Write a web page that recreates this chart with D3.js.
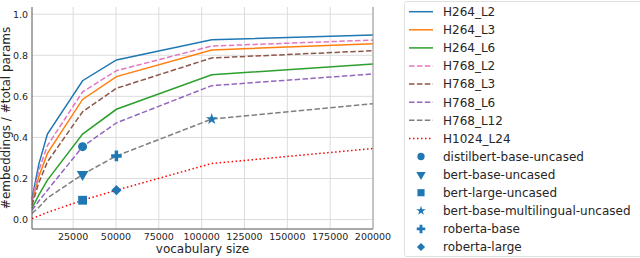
<!DOCTYPE html>
<html>
<head>
<meta charset="utf-8" />
<title>Embedding share</title>
<style>
  body { margin: 0; background: white; }
  text { font-family: "DejaVu Sans", sans-serif; fill: #262626; }
</style>
</head>
<body>
<svg id="chart" width="640" height="258"></svg>
<script src="https://d3js.org/d3.v7.min.js"></script>
<script>

var vocab = [1000, 5000, 10000, 30522, 50265, 105879, 200000];

var seriesNames = ["H264_L2", "H264_L3", "H264_L6", "H768_L2", "H768_L3", "H768_L6", "H768_L12", "H1024_L24"];
var seriesValues = [
  [0.10, 0.27, 0.416, 0.676, 0.777, 0.875, 0.899],
  [0.086, 0.21, 0.322, 0.585, 0.696, 0.826, 0.856],
  [0.055, 0.12, 0.192, 0.416, 0.537, 0.705, 0.758],
  [0.094, 0.24, 0.36, 0.622, 0.725, 0.845, 0.874],
  [0.07, 0.18, 0.281, 0.525, 0.639, 0.787, 0.822],
  [0.045, 0.09, 0.143, 0.355, 0.471, 0.652, 0.709],
  [0.03, 0.06, 0.105, 0.22, 0.31, 0.489, 0.564],
  [0.005, 0.018, 0.035, 0.094, 0.143, 0.273, 0.346]
];
var seriesColors = ["#1f77b4", "#ff7f0e", "#2ca02c", "#e377c2", "#8c564b", "#9467bd", "#7f7f7f", "red"];
var seriesDash = [null, null, null, "5.5,2.4", "5.5,2.4", "5.5,2.4", "5.5,2.4", "1.5,2.5"];

var modelNames = ["distilbert-base-uncased", "bert-base-uncased", "bert-large-uncased",
                  "bert-base-multilingual-uncased", "roberta-base", "roberta-large"];
var modelVocab = [30522, 30522, 30522, 105879, 50265, 50265];
var modelRatio = [0.355, 0.22, 0.094, 0.489, 0.31, 0.143];

var xTicks = [25000, 50000, 75000, 100000, 125000, 150000, 175000, 200000];
var yTicks = [0.0, 0.2, 0.4, 0.6, 0.8, 1.0];

// marker shapes: [symbol type, area, rotation]
var shapes = [
  [d3.symbolCircle, 64, 0],
  [d3.symbolTriangle, 58, 180],
  [d3.symbolSquare, 78, 0],
  [d3.symbolStar, 42, 0],
  [d3.symbolCross, 62, 0],
  [d3.symbolSquare, 52, 45]
];

var svg = d3.select("#chart");
var plotL = 32, plotR = 373, plotT = 7, plotB = 229;

var x = d3.scaleLinear().domain([d3.min(vocab), 200000]).range([plotL, plotR]);
var y = d3.scaleLinear().domain([-0.046, 1.035]).range([plotB, plotT]);

// grid
svg.append("g").selectAll("line").data(xTicks).enter().append("line")
  .attr("x1", function(d){ return x(d); }).attr("x2", function(d){ return x(d); })
  .attr("y1", plotT).attr("y2", plotB)
  .attr("stroke", "#dcdcdc").attr("stroke-width", 1);
svg.append("g").selectAll("line").data(yTicks).enter().append("line")
  .attr("x1", plotL).attr("x2", plotR)
  .attr("y1", function(d){ return y(d); }).attr("y2", function(d){ return y(d); })
  .attr("stroke", "#dcdcdc").attr("stroke-width", 1);

// tick labels
svg.append("g").selectAll("text").data(xTicks).enter().append("text")
  .attr("x", function(d){ return x(d); }).attr("y", 240)
  .attr("text-anchor", "middle").attr("font-size", 9.5)
  .text(function(d){ return d3.format("d")(d); });
svg.append("g").selectAll("text").data(yTicks).enter().append("text")
  .attr("x", 28).attr("y", function(d){ return y(d) + 3.5; })
  .attr("text-anchor", "end").attr("font-size", 9.5)
  .text(function(d){ return d3.format(".1f")(d); });

// axis labels
svg.append("text").attr("x", (plotL + plotR) / 2).attr("y", 253)
  .attr("text-anchor", "middle").attr("font-size", 12).text("vocabulary size");
svg.append("text").attr("transform", "translate(10," + ((plotT + plotB) / 2) + ") rotate(-90)")
  .attr("text-anchor", "middle").attr("font-size", 12).text("#embeddings / #total params");

// lines
var line = d3.line()
  .x(function(d, i){ return x(vocab[i]); })
  .y(function(d){ return y(d); });

seriesValues.forEach(function(vals, i){
  svg.append("path")
    .attr("d", line(vals))
    .attr("fill", "none")
    .attr("stroke", seriesColors[i])
    .attr("stroke-width", 1.5)
    .attr("stroke-dasharray", seriesDash[i]);
});

// model markers
modelNames.forEach(function(name, i){
  svg.append("path")
    .attr("d", d3.symbol().type(shapes[i][0]).size(shapes[i][1])())
    .attr("transform", "translate(" + x(modelVocab[i]) + "," + y(modelRatio[i]) + ") rotate(" + shapes[i][2] + ")")
    .attr("fill", "#1f77b4");
});

// spines
svg.append("line").attr("x1", plotL).attr("x2", plotL).attr("y1", plotT).attr("y2", plotB)
  .attr("stroke", "#555").attr("stroke-width", 1);
svg.append("line").attr("x1", plotL).attr("x2", plotR).attr("y1", plotB).attr("y2", plotB)
  .attr("stroke", "#555").attr("stroke-width", 1);
svg.append("line").attr("x1", plotR).attr("x2", plotR).attr("y1", plotT).attr("y2", plotB)
  .attr("stroke", "#999").attr("stroke-width", 1);

// legend
var lg = svg.append("g");
lg.append("rect").attr("x", 404.5).attr("y", 1.5).attr("width", 240).attr("height", 255)
  .attr("rx", 2).attr("fill", "white").attr("stroke", "#e0e0e0");

var rowY = function(i){ return 11.7 + i * 18.1; };

seriesNames.forEach(function(name, i){
  lg.append("line").attr("x1", 409).attr("x2", 433)
    .attr("y1", rowY(i)).attr("y2", rowY(i))
    .attr("stroke", seriesColors[i]).attr("stroke-width", 1.5)
    .attr("stroke-dasharray", seriesDash[i]);
  lg.append("text").attr("x", 443).attr("y", rowY(i) + 4.3)
    .attr("font-size", 12).text(name);
});
modelNames.forEach(function(name, j){
  var i = j + seriesNames.length;
  lg.append("path")
    .attr("d", d3.symbol().type(shapes[j][0]).size(shapes[j][1] * 0.65)())
    .attr("transform", "translate(421," + rowY(i) + ") rotate(" + shapes[j][2] + ")")
    .attr("fill", "#1f77b4");
  lg.append("text").attr("x", 443).attr("y", rowY(i) + 4.3)
    .attr("font-size", 12).text(name);
});

</script>
</body>
</html>
